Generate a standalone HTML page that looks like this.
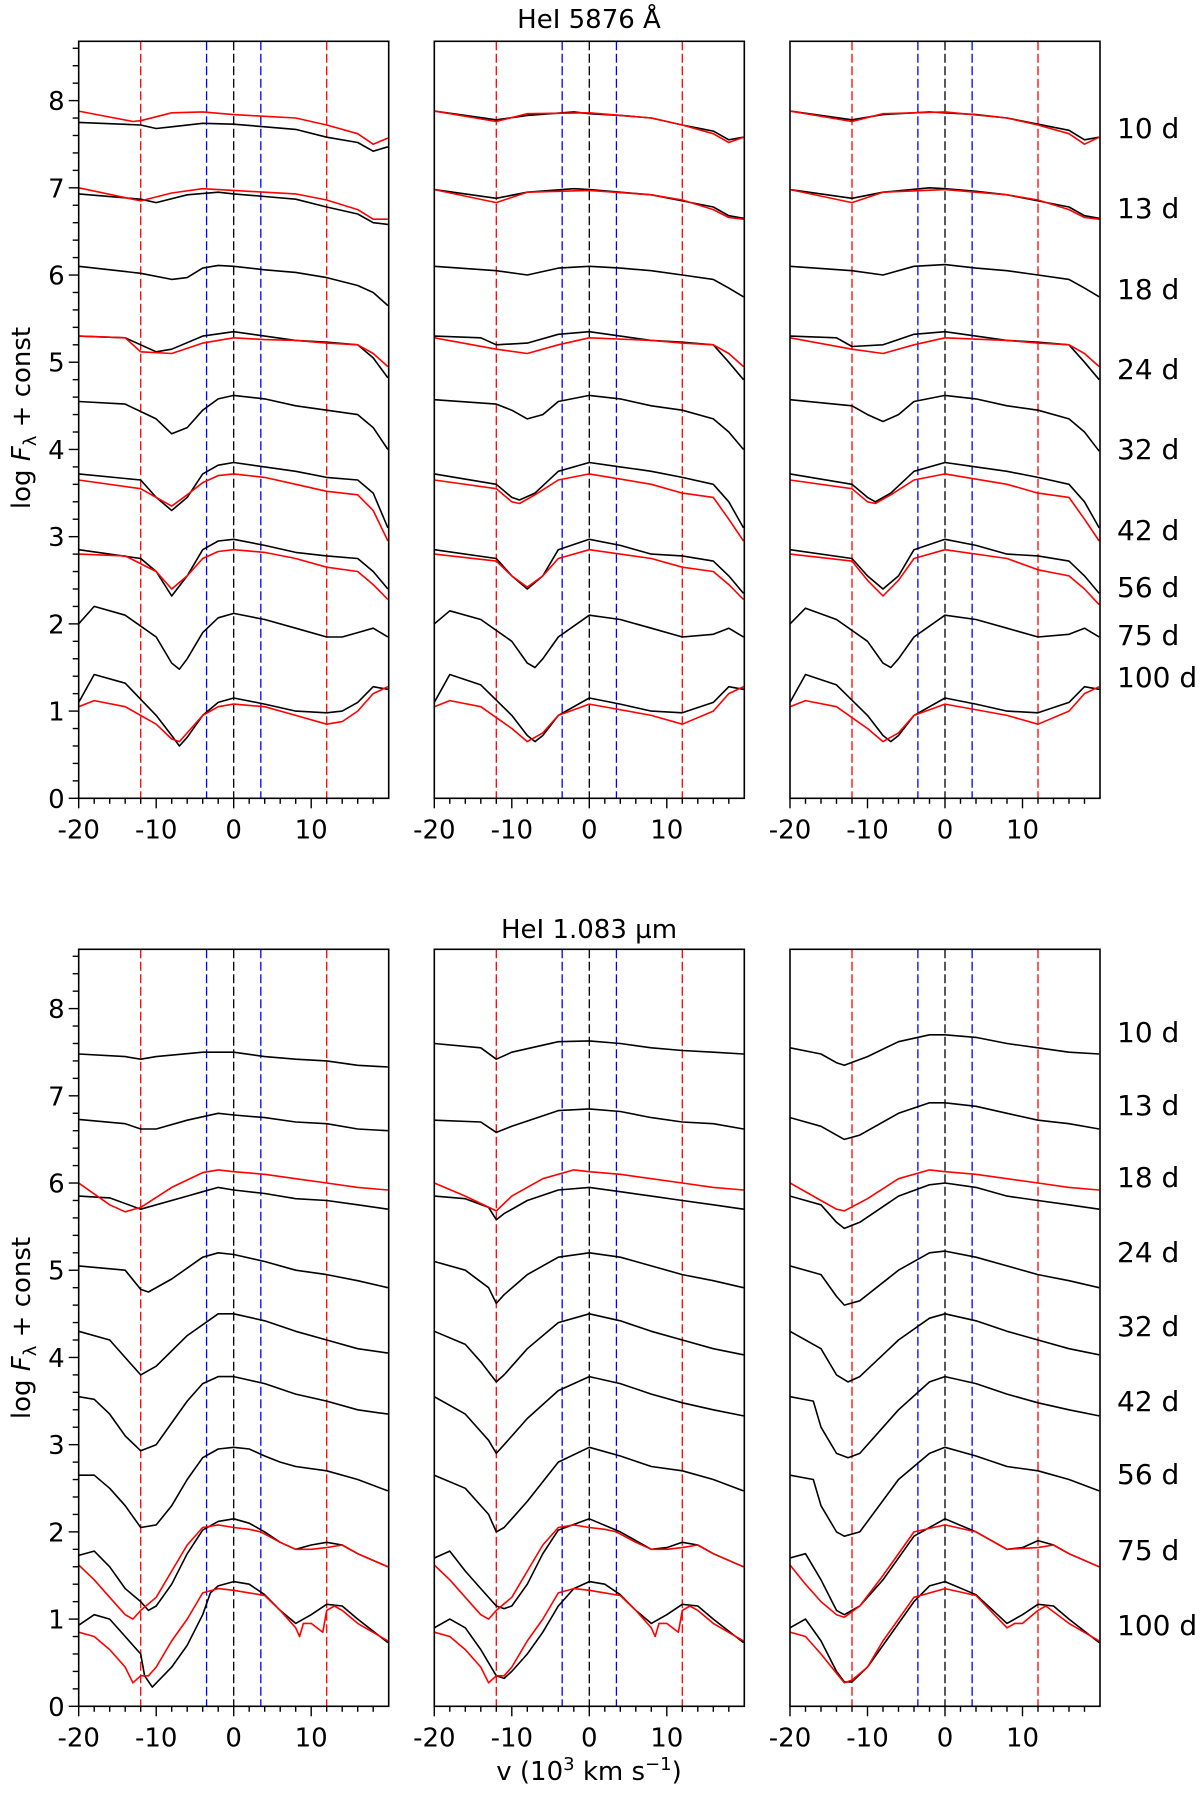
<!DOCTYPE html>
<html><head><meta charset="utf-8"><style>
html,body{margin:0;padding:0;background:#fff}
svg{display:block;font-family:"DejaVu Sans","Liberation Sans",sans-serif}
</style></head><body>
<svg id="fig" width="1200" height="1793" viewBox="0 0 1200 1793" xmlns="http://www.w3.org/2000/svg"></svg>
<script>
// ---------- data ----------
const dayLabels = ["10 d","13 d","18 d","24 d","32 d","42 d","56 d","75 d","100 d"];
const topLabelY = [128,208,289,369,449,530,587,635,677];
const botLabelY = [1032,1105,1177,1252,1326,1401,1474,1550,1625];
const refRed = [-12,12];
const refBlue = [-3.5,3.5];
const refBlack = [0];
const xTickLabels = [-20,-10,0,10];
const yTickLabels = [0,1,2,3,4,5,6,7,8];

// top-left (HeI 5876)
const p1_black = [
 [[-20,7.75],[-12,7.72],[-10,7.68],[-8,7.70],[-4,7.74],[0,7.73],[4,7.70],[8,7.67],[12,7.58],[16,7.52],[18,7.42],[19.9,7.47]],
 [[-20,6.93],[-12,6.87],[-10,6.83],[-6,6.92],[-2,6.95],[0,6.93],[4,6.90],[8,6.87],[12,6.78],[16,6.70],[18,6.60],[19.9,6.58]],
 [[-20,6.10],[-12,6.02],[-8,5.95],[-6,5.97],[-4,6.08],[-2,6.11],[0,6.10],[4,6.06],[8,6.03],[12,5.97],[16,5.88],[18,5.80],[19.9,5.65]],
 [[-20,5.3],[-14,5.28],[-10,5.12],[-8,5.15],[-4,5.30],[0,5.35],[4,5.30],[8,5.25],[12,5.23],[16,5.20],[18,5.05],[19.9,4.82]],
 [[-20,4.55],[-14,4.52],[-10,4.35],[-8,4.18],[-6,4.25],[-4,4.45],[-2,4.58],[0,4.62],[4,4.58],[8,4.50],[12,4.45],[16,4.40],[18,4.25],[19.9,4.0]],
 [[-20,3.72],[-12,3.65],[-10,3.45],[-8,3.3],[-6,3.45],[-4,3.72],[-2,3.82],[0,3.85],[4,3.80],[8,3.75],[12,3.68],[16,3.65],[18,3.50],[19.9,3.1]],
 [[-20,2.85],[-12,2.75],[-10,2.6],[-8,2.32],[-6,2.55],[-4,2.85],[-2,2.95],[0,2.97],[4,2.90],[8,2.82],[12,2.78],[16,2.75],[18,2.6],[19.9,2.4]],
 [[-20,2.0],[-18,2.2],[-14,2.1],[-10,1.85],[-8,1.55],[-7,1.48],[-6,1.6],[-4,1.9],[-2,2.07],[0,2.12],[4,2.05],[8,1.95],[12,1.85],[14,1.85],[16,1.9],[18,1.95],[19.9,1.85]],
 [[-20,1.1],[-18,1.42],[-14,1.32],[-10,0.95],[-8,0.72],[-7,0.6],[-6,0.7],[-4,0.95],[-2,1.1],[0,1.15],[4,1.08],[8,1.0],[12,0.98],[14,1.0],[16,1.1],[18,1.28],[19.9,1.25]]
];
const p1_red = [
 [[-20,7.88],[-13,7.76],[-12,7.77],[-8,7.86],[-4,7.87],[0,7.84],[4,7.82],[8,7.80],[12,7.72],[16,7.62],[18,7.50],[19.9,7.57]],
 [[-20,7.0],[-12,6.85],[-8,6.94],[-4,6.99],[0,6.97],[4,6.95],[8,6.93],[12,6.86],[16,6.75],[18,6.64],[19.9,6.64]],
 [[-20,5.3],[-14,5.28],[-12,5.12],[-8,5.10],[-4,5.22],[0,5.28],[4,5.26],[8,5.25],[12,5.22],[16,5.20],[18,5.10],[19.9,4.95]],
 [[-20,3.65],[-12,3.55],[-10,3.45],[-8,3.35],[-6,3.48],[-4,3.62],[-2,3.70],[0,3.72],[4,3.68],[8,3.60],[12,3.52],[16,3.48],[18,3.30],[19.9,2.95]],
 [[-20,2.8],[-14,2.78],[-10,2.60],[-8,2.4],[-6,2.55],[-4,2.75],[-2,2.83],[0,2.85],[4,2.82],[8,2.75],[12,2.65],[16,2.60],[18,2.45],[19.9,2.28]],
 [[-20,1.05],[-18,1.12],[-14,1.05],[-10,0.85],[-8,0.68],[-7,0.65],[-6,0.75],[-4,0.95],[-2,1.05],[0,1.08],[4,1.05],[8,0.95],[12,0.85],[14,0.88],[16,1.0],[18,1.2],[19.9,1.28]]
];
// top-middle
const p2_black = [
 [[-20,7.88],[-12,7.78],[-8,7.83],[-2,7.87],[0,7.85],[4,7.83],[8,7.80],[12,7.72],[16,7.65],[18,7.55],[19.9,7.58]],
 [[-20,6.98],[-12,6.88],[-8,6.95],[-2,6.99],[0,6.98],[4,6.95],[8,6.92],[12,6.85],[16,6.78],[18,6.68],[19.9,6.65]],
 [[-20,6.10],[-12,6.05],[-8,6.0],[-4,6.08],[0,6.10],[4,6.08],[8,6.05],[12,6.0],[16,5.95],[18,5.85],[19.9,5.75]],
 [[-20,5.3],[-14,5.28],[-12,5.2],[-8,5.22],[-4,5.32],[0,5.35],[4,5.3],[8,5.25],[12,5.23],[16,5.2],[18,5.0],[19.9,4.8]],
 [[-20,4.57],[-12,4.52],[-10,4.45],[-8,4.35],[-6,4.4],[-4,4.55],[0,4.62],[4,4.58],[8,4.5],[12,4.45],[16,4.35],[18,4.2],[19.9,4.0]],
 [[-20,3.72],[-12,3.6],[-10,3.45],[-9,3.42],[-7,3.5],[-4,3.75],[0,3.85],[4,3.8],[8,3.75],[12,3.68],[16,3.6],[18,3.4],[19.9,3.1]],
 [[-20,2.85],[-12,2.75],[-10,2.55],[-8,2.4],[-6,2.55],[-4,2.85],[0,2.97],[4,2.9],[8,2.8],[12,2.78],[16,2.72],[18,2.55],[19.9,2.35]],
 [[-20,2.0],[-18,2.15],[-14,2.05],[-10,1.8],[-8,1.55],[-7,1.5],[-6,1.6],[-4,1.85],[0,2.1],[4,2.05],[8,1.95],[12,1.85],[16,1.88],[18,1.95],[19.9,1.85]],
 [[-20,1.1],[-18,1.42],[-14,1.3],[-10,0.95],[-8,0.72],[-7,0.65],[-6,0.72],[-4,0.95],[0,1.15],[4,1.08],[8,1.0],[12,0.98],[16,1.1],[18,1.28],[19.9,1.25]]
];
const p2_red = [
 [[-20,7.88],[-12,7.76],[-8,7.85],[0,7.86],[8,7.80],[12,7.72],[16,7.62],[18,7.52],[19.9,7.58]],
 [[-20,6.98],[-12,6.83],[-8,6.95],[0,6.97],[8,6.92],[12,6.86],[16,6.75],[18,6.66],[19.9,6.64]],
 [[-20,5.28],[-12,5.15],[-8,5.1],[-4,5.2],[0,5.28],[8,5.25],[12,5.22],[16,5.2],[18,5.1],[19.9,4.95]],
 [[-20,3.65],[-12,3.55],[-10,3.4],[-9,3.38],[-7,3.48],[-4,3.65],[0,3.72],[8,3.6],[12,3.5],[16,3.45],[18,3.2],[19.9,2.95]],
 [[-20,2.8],[-12,2.72],[-10,2.55],[-8,2.42],[-6,2.55],[-4,2.75],[0,2.85],[8,2.75],[12,2.65],[16,2.6],[18,2.45],[19.9,2.28]],
 [[-20,1.05],[-18,1.12],[-14,1.05],[-10,0.8],[-8,0.65],[-6,0.75],[-4,0.95],[0,1.08],[8,0.95],[12,0.85],[16,1.0],[18,1.2],[19.9,1.28]]
];
// top-right
const p3_black = [
 [[-20,7.88],[-12,7.78],[-8,7.84],[-2,7.87],[0,7.86],[4,7.84],[8,7.80],[12,7.73],[16,7.66],[18,7.55],[19.9,7.58]],
 [[-20,6.98],[-12,6.88],[-8,6.95],[-2,7.0],[0,6.99],[4,6.96],[8,6.92],[12,6.85],[16,6.78],[18,6.68],[19.9,6.65]],
 [[-20,6.10],[-12,6.05],[-8,6.0],[-4,6.1],[0,6.12],[4,6.08],[8,6.05],[12,6.0],[16,5.95],[18,5.85],[19.9,5.75]],
 [[-20,5.3],[-14,5.28],[-12,5.18],[-8,5.2],[-4,5.32],[0,5.35],[4,5.3],[8,5.25],[12,5.23],[16,5.2],[18,5.0],[19.9,4.8]],
 [[-20,4.57],[-12,4.5],[-10,4.4],[-8,4.32],[-6,4.4],[-4,4.55],[0,4.62],[4,4.58],[8,4.5],[12,4.45],[16,4.35],[18,4.2],[19.9,3.98]],
 [[-20,3.72],[-12,3.6],[-10,3.45],[-9,3.4],[-7,3.5],[-4,3.75],[0,3.85],[4,3.8],[8,3.75],[12,3.68],[16,3.6],[18,3.4],[19.9,3.1]],
 [[-20,2.85],[-12,2.75],[-10,2.55],[-8,2.4],[-6,2.55],[-4,2.85],[0,2.97],[4,2.9],[8,2.8],[12,2.78],[16,2.72],[18,2.55],[19.9,2.35]],
 [[-20,2.0],[-18,2.18],[-14,2.05],[-10,1.8],[-8,1.55],[-7,1.5],[-6,1.6],[-4,1.85],[0,2.1],[4,2.05],[8,1.95],[12,1.85],[16,1.88],[18,1.95],[19.9,1.85]],
 [[-20,1.1],[-18,1.42],[-14,1.3],[-10,0.95],[-8,0.72],[-7,0.65],[-6,0.72],[-4,0.95],[0,1.15],[4,1.08],[8,1.0],[12,0.98],[16,1.1],[18,1.28],[19.9,1.25]]
];
const p3_red = [
 [[-20,7.88],[-12,7.76],[-8,7.85],[0,7.87],[8,7.80],[12,7.72],[16,7.62],[18,7.50],[19.9,7.58]],
 [[-20,6.98],[-12,6.83],[-8,6.95],[0,6.98],[8,6.92],[12,6.86],[16,6.75],[18,6.66],[19.9,6.64]],
 [[-20,5.28],[-12,5.15],[-8,5.1],[-4,5.2],[0,5.28],[8,5.25],[12,5.22],[16,5.2],[18,5.1],[19.9,4.95]],
 [[-20,3.65],[-12,3.55],[-10,3.4],[-9,3.38],[-7,3.48],[-4,3.65],[0,3.72],[8,3.6],[12,3.5],[16,3.45],[18,3.2],[19.9,2.95]],
 [[-20,2.8],[-12,2.72],[-10,2.5],[-8,2.32],[-6,2.5],[-4,2.75],[0,2.85],[8,2.75],[12,2.62],[16,2.55],[18,2.4],[19.9,2.22]],
 [[-20,1.05],[-18,1.12],[-14,1.05],[-10,0.8],[-8,0.65],[-6,0.75],[-4,0.95],[0,1.08],[8,0.95],[12,0.85],[16,1.0],[18,1.2],[19.9,1.28]]
];
// bottom-left (HeI 1.083)
const p4_black = [
 [[-20,7.48],[-14,7.45],[-12,7.42],[-10,7.45],[-4,7.50],[0,7.50],[4,7.45],[8,7.42],[12,7.40],[16,7.35],[19.9,7.33]],
 [[-20,6.73],[-14,6.68],[-12,6.62],[-10,6.62],[-6,6.72],[-2,6.80],[0,6.78],[4,6.75],[8,6.70],[12,6.68],[16,6.62],[19.9,6.6]],
 [[-20,5.85],[-16,5.83],[-12,5.7],[-10,5.75],[-6,5.85],[-4,5.9],[-2,5.95],[0,5.92],[4,5.88],[8,5.82],[12,5.8],[16,5.75],[19.9,5.7]],
 [[-20,5.05],[-14,5.0],[-12,4.78],[-11,4.75],[-8,4.9],[-4,5.15],[-2,5.2],[0,5.18],[4,5.1],[8,5.0],[12,4.95],[16,4.88],[19.9,4.8]],
 [[-20,4.3],[-16,4.2],[-14,4.0],[-12,3.8],[-10,3.9],[-6,4.25],[-2,4.5],[0,4.5],[4,4.42],[8,4.3],[12,4.2],[16,4.1],[19.9,4.05]],
 [[-20,3.55],[-18,3.52],[-16,3.35],[-14,3.1],[-12,2.93],[-10,3.0],[-8,3.25],[-6,3.5],[-4,3.7],[-2,3.78],[0,3.78],[4,3.7],[8,3.58],[12,3.5],[16,3.4],[19.9,3.35]],
 [[-20,2.65],[-18,2.65],[-16,2.5],[-14,2.3],[-12,2.05],[-10,2.08],[-8,2.3],[-6,2.6],[-4,2.85],[-2,2.95],[0,2.97],[2,2.95],[4,2.87],[6,2.8],[8,2.75],[12,2.7],[16,2.6],[19.9,2.47]],
 [[-20,1.73],[-18,1.78],[-16,1.6],[-14,1.35],[-12,1.2],[-11,1.1],[-10,1.15],[-8,1.4],[-6,1.75],[-4,2.02],[-2,2.12],[0,2.15],[2,2.1],[4,2.0],[6,1.88],[8,1.8],[10,1.85],[12,1.88],[14,1.85],[16,1.75],[19.9,1.6]],
 [[-20,0.93],[-18,1.05],[-16,1.0],[-14,0.8],[-12,0.6],[-11.5,0.35],[-10.5,0.22],[-8,0.45],[-6,0.7],[-4,1.05],[-3,1.3],[-2,1.38],[0,1.43],[2,1.4],[4,1.28],[6,1.1],[8,0.95],[10,1.05],[12,1.17],[14,1.15],[16,1.0],[19.9,0.73]]
];
const p4_red = [
 [[-20,6.0],[-16,5.75],[-14,5.67],[-12,5.72],[-8,5.95],[-4,6.12],[-2,6.15],[0,6.13],[4,6.10],[8,6.05],[12,6.0],[16,5.95],[19.9,5.92]],
 [[-20,1.62],[-18,1.45],[-16,1.25],[-14,1.05],[-13,1.0],[-12,1.1],[-10,1.25],[-8,1.55],[-6,1.85],[-4,2.05],[-2,2.08],[0,2.05],[2,2.03],[3.5,2.0],[6,1.88],[8,1.8],[10,1.8],[12,1.82],[14,1.85],[16,1.75],[19.9,1.6]],
 [[-20,0.85],[-18,0.8],[-16,0.65],[-14,0.45],[-13,0.27],[-12,0.35],[-11,0.35],[-10,0.45],[-8,0.75],[-6,1.0],[-4,1.3],[-2,1.35],[0,1.33],[2,1.3],[4,1.27],[6,1.1],[8,0.9],[8.5,0.8],[9,0.95],[10,0.95],[11.5,0.85],[12,1.1],[13,1.15],[14,1.1],[16,0.95],[19.9,0.75]]
];
// bottom-middle
const p5_black = [
 [[-20,7.6],[-14,7.55],[-12,7.42],[-10,7.5],[-4,7.62],[0,7.63],[4,7.6],[8,7.55],[12,7.52],[16,7.5],[19.9,7.48]],
 [[-20,6.72],[-14,6.7],[-12,6.58],[-10,6.65],[-4,6.83],[0,6.85],[4,6.82],[8,6.75],[12,6.7],[16,6.68],[19.9,6.62]],
 [[-20,5.85],[-16,5.82],[-13,5.72],[-12,5.58],[-11,5.65],[-8,5.8],[-4,5.92],[0,5.95],[4,5.9],[8,5.85],[12,5.8],[16,5.75],[19.9,5.7]],
 [[-20,5.1],[-16,5.0],[-13,4.8],[-12,4.62],[-11,4.72],[-8,4.95],[-4,5.15],[0,5.2],[4,5.15],[8,5.05],[12,4.95],[16,4.88],[19.9,4.8]],
 [[-20,4.3],[-16,4.15],[-14,3.95],[-12,3.72],[-11,3.8],[-8,4.1],[-4,4.4],[0,4.5],[4,4.42],[8,4.3],[12,4.2],[16,4.1],[19.9,4.03]],
 [[-20,3.55],[-16,3.35],[-13,3.05],[-12,2.9],[-11,3.0],[-8,3.3],[-4,3.62],[0,3.78],[4,3.7],[8,3.58],[12,3.48],[16,3.4],[19.9,3.33]],
 [[-20,2.65],[-16,2.5],[-13,2.2],[-12,2.0],[-11,2.05],[-8,2.35],[-4,2.8],[0,2.97],[4,2.87],[8,2.75],[12,2.7],[16,2.6],[19.9,2.47]],
 [[-20,1.7],[-18,1.78],[-16,1.55],[-14,1.35],[-12,1.15],[-11,1.12],[-10,1.15],[-8,1.4],[-6,1.75],[-4,2.02],[0,2.15],[4,2.0],[8,1.8],[10,1.82],[12,1.88],[14,1.85],[16,1.75],[19.9,1.6]],
 [[-20,0.9],[-18,1.0],[-16,0.9],[-14,0.65],[-12,0.35],[-11,0.32],[-10,0.4],[-8,0.6],[-6,0.85],[-4,1.15],[-2,1.35],[0,1.43],[2,1.4],[4,1.28],[6,1.1],[8,0.95],[10,1.05],[12,1.17],[14,1.15],[16,1.0],[19.9,0.73]]
];
const p5_red = [
 [[-20,6.0],[-16,5.85],[-12,5.68],[-10,5.85],[-6,6.05],[-2,6.15],[0,6.13],[4,6.1],[8,6.05],[12,6.0],[16,5.95],[19.9,5.92]],
 [[-20,1.62],[-18,1.45],[-16,1.25],[-14,1.05],[-13,1.0],[-12,1.1],[-10,1.25],[-8,1.55],[-6,1.85],[-4,2.05],[-2,2.08],[0,2.05],[2,2.03],[3.5,2.0],[6,1.88],[8,1.8],[10,1.8],[12,1.82],[14,1.85],[16,1.75],[19.9,1.6]],
 [[-20,0.85],[-18,0.8],[-16,0.65],[-14,0.45],[-13,0.27],[-12,0.35],[-11,0.35],[-10,0.45],[-8,0.75],[-6,1.0],[-4,1.3],[-2,1.35],[0,1.33],[2,1.3],[4,1.27],[6,1.1],[8,0.9],[8.5,0.8],[9,0.95],[10,0.95],[11.5,0.85],[12,1.1],[13,1.15],[14,1.1],[16,0.95],[19.9,0.75]]
];
// bottom-right
const p6_black = [
 [[-20,7.55],[-16,7.48],[-14,7.38],[-13,7.35],[-10,7.45],[-6,7.62],[-2,7.7],[0,7.7],[4,7.67],[8,7.6],[12,7.55],[16,7.5],[19.9,7.48]],
 [[-20,6.75],[-16,6.65],[-13,6.5],[-11,6.55],[-6,6.8],[-2,6.92],[0,6.92],[4,6.88],[8,6.8],[12,6.72],[16,6.68],[19.9,6.62]],
 [[-20,5.85],[-16,5.75],[-14,5.55],[-13,5.48],[-11,5.55],[-6,5.85],[-2,5.98],[0,6.0],[4,5.95],[8,5.85],[12,5.8],[16,5.75],[19.9,5.7]],
 [[-20,5.05],[-16,4.95],[-14,4.7],[-13,4.6],[-11,4.65],[-6,5.0],[-2,5.2],[0,5.22],[4,5.15],[8,5.05],[12,4.95],[16,4.88],[19.9,4.8]],
 [[-20,4.3],[-16,4.1],[-14,3.8],[-12.5,3.72],[-11,3.78],[-6,4.2],[-2,4.45],[0,4.5],[4,4.42],[8,4.3],[12,4.2],[16,4.1],[19.9,4.03]],
 [[-20,3.55],[-17,3.5],[-16,3.2],[-14,2.9],[-12.5,2.85],[-11,2.9],[-6,3.4],[-2,3.72],[0,3.78],[4,3.7],[8,3.58],[12,3.48],[16,3.4],[19.9,3.33]],
 [[-20,2.65],[-17,2.6],[-16,2.3],[-14,2.0],[-13,1.95],[-11,2.0],[-6,2.6],[-2,2.9],[0,2.97],[4,2.87],[8,2.75],[12,2.7],[16,2.6],[19.9,2.47]],
 [[-20,1.7],[-18,1.75],[-16,1.45],[-14,1.1],[-13,1.05],[-11,1.15],[-8,1.45],[-4,1.95],[0,2.15],[4,2.0],[8,1.8],[10,1.82],[12,1.9],[14,1.85],[16,1.75],[19.9,1.6]],
 [[-20,0.9],[-18,1.0],[-16,0.75],[-14,0.4],[-13,0.28],[-12,0.28],[-10,0.45],[-8,0.7],[-4,1.2],[-2,1.38],[0,1.43],[4,1.28],[8,0.95],[10,1.05],[12,1.17],[14,1.15],[16,1.0],[19.9,0.73]]
];
const p6_red = [
 [[-20,6.0],[-16,5.8],[-14,5.7],[-13,5.68],[-10,5.82],[-6,6.05],[-2,6.15],[0,6.13],[4,6.1],[8,6.05],[12,6.0],[16,5.95],[19.9,5.92]],
 [[-20,1.62],[-18,1.4],[-16,1.2],[-14,1.05],[-13,1.02],[-11,1.15],[-8,1.5],[-4,2.0],[0,2.08],[4,2.0],[8,1.8],[12,1.82],[14,1.85],[16,1.75],[19.9,1.6]],
 [[-20,0.85],[-18,0.8],[-16,0.6],[-14,0.38],[-13,0.27],[-12,0.3],[-10,0.45],[-8,0.75],[-4,1.25],[0,1.35],[4,1.27],[8,0.9],[9,0.95],[10,0.95],[12,1.1],[13,1.15],[16,0.95],[19.9,0.75]]
];

// ---------- drawing ----------
const NS = "http://www.w3.org/2000/svg";
const svg = document.getElementById('fig');
const X_MIN = -20, X_MAX = 20, Y_MIN = 0, Y_MAX = 8.68;
const PW = 310, PH = 757;
const colsX = [78.7, 434.3, 790];
const rowsY = [41.3, 949.3];

function mk(tag, attrs, parent) {
  const e = document.createElementNS(NS, tag);
  for (const k in attrs) e.setAttribute(k, attrs[k]);
  (parent || svg).appendChild(e);
  return e;
}

function drawPanel(ox, oy, blacks, reds, showY, name) {
  const g = mk('g', {});
  
  
  const sx = v => ox + (v - X_MIN) / (X_MAX - X_MIN) * PW;
  const sy = y => oy + PH - (y - Y_MIN) / (Y_MAX - Y_MIN) * PH;
  const clip = 'clip-' + name;
  const cp = mk('clipPath', {id: clip}, g);
  mk('rect', {x: ox, y: oy, width: PW, height: PH}, cp);
  const lines = [[refRed, '#ff0000'], [refBlue, '#0000ff'], [refBlack, '#000000']];
  lines.forEach(([arr, col]) => arr.forEach(v => {
    const l = mk('line', {x1: sx(v), x2: sx(v), y1: oy, y2: oy + PH, stroke: col, 'stroke-width': 1.3, 'stroke-dasharray': '9,3.5'}, g);
    
    
  }));
  const drawCurve = (pts, col, nm) => {
    const d = pts.map((p, i) => (i ? 'L' : 'M') + sx(p[0]).toFixed(1) + ',' + sy(p[1]).toFixed(1)).join('');
    const p = mk('path', {d: d, fill: 'none', stroke: col, 'stroke-width': 1.6, 'stroke-linejoin': 'round', 'clip-path': 'url(#' + clip + ')'}, g);
    
    
  };
  blacks.forEach(c => drawCurve(c, '#000000', 'observed-spectrum'));
  reds.forEach(c => drawCurve(c, '#ff0000', 'comparison-spectrum'));
  const fr = mk('rect', {x: ox, y: oy, width: PW, height: PH, fill: 'none', stroke: '#000', 'stroke-width': 1.6}, g);
  
  
  // x ticks
  for (let v = -20; v < X_MAX; v += 2) {
    const major = v % 10 === 0;
    mk('line', {x1: sx(v), x2: sx(v), y1: oy + PH, y2: oy + PH + (major ? 10 : 5.5), stroke: '#000', 'stroke-width': 1.4}, g);
  }
  xTickLabels.forEach(v => {
    const t = mk('text', {x: sx(v), y: oy + PH + 40, 'text-anchor': 'middle', 'font-size': 26}, g);
    t.textContent = v;
    
    
  });
  if (showY) {
    for (let i = 0; i <= 43; i++) {
      const y = i * 0.2;
      const major = i % 5 === 0;
      mk('line', {x1: ox, x2: ox - (major ? 10 : 6), y1: sy(y), y2: sy(y), stroke: '#000', 'stroke-width': 1.4}, g);
    }
    yTickLabels.forEach(y => {
      const t = mk('text', {x: ox - 14, y: sy(y) + 9.5, 'text-anchor': 'end', 'font-size': 26}, g);
      t.textContent = y;
      
      
    });
  }
}

drawPanel(colsX[0], rowsY[0], p1_black, p1_red, true, 'panel-5876-left');
drawPanel(colsX[1], rowsY[0], p2_black, p2_red, false, 'panel-5876-middle');
drawPanel(colsX[2], rowsY[0], p3_black, p3_red, false, 'panel-5876-right');
drawPanel(colsX[0], rowsY[1], p4_black, p4_red, true, 'panel-1083-left');
drawPanel(colsX[1], rowsY[1], p5_black, p5_red, false, 'panel-1083-middle');
drawPanel(colsX[2], rowsY[1], p6_black, p6_red, false, 'panel-1083-right');

dayLabels.forEach((lab, i) => {
  const t1 = mk('text', {x: 1117, y: topLabelY[i] + 10, 'font-size': 28});
  t1.textContent = lab;
  
  
  const t2 = mk('text', {x: 1117, y: botLabelY[i] + 10, 'font-size': 28});
  t2.textContent = lab;
  
  
});
</script>
<svg width="0" height="0" style="position:absolute"></svg>
<script>
(function(){
  const NS = "http://www.w3.org/2000/svg";
  const svg = document.getElementById('fig');
  function txt(x, y, s, size, name, rot) {
    const t = document.createElementNS(NS, 'text');
    t.setAttribute('x', x); t.setAttribute('y', y);
    t.setAttribute('font-size', size);
    t.setAttribute('text-anchor', 'middle');
    if (rot) t.setAttribute('transform', 'rotate(-90 ' + x + ' ' + y + ')');
    
    
    t.innerHTML = s;
    svg.appendChild(t);
    return t;
  }
  txt(589, 28, 'HeI 5876 Å', 26, 'title-5876', false);
  txt(589, 938, 'HeI 1.083 µm', 26, 'title-1083', false);
  txt(589, 1780, 'v (10<tspan dy="-10" font-size="18">3</tspan><tspan dy="10"> km s</tspan><tspan dy="-10" font-size="18">−1</tspan><tspan dy="10">)</tspan>', 26, 'x-axis-title', false);
  const yl = 'log <tspan font-style="italic">F</tspan><tspan dy="6" font-size="18">λ</tspan><tspan dy="-6"> + const</tspan>';
  txt(30, 418, yl, 26, 'y-axis-title-top', true);
  txt(30, 1328, yl, 26, 'y-axis-title-bottom', true);
})();
</script>
</body></html>
